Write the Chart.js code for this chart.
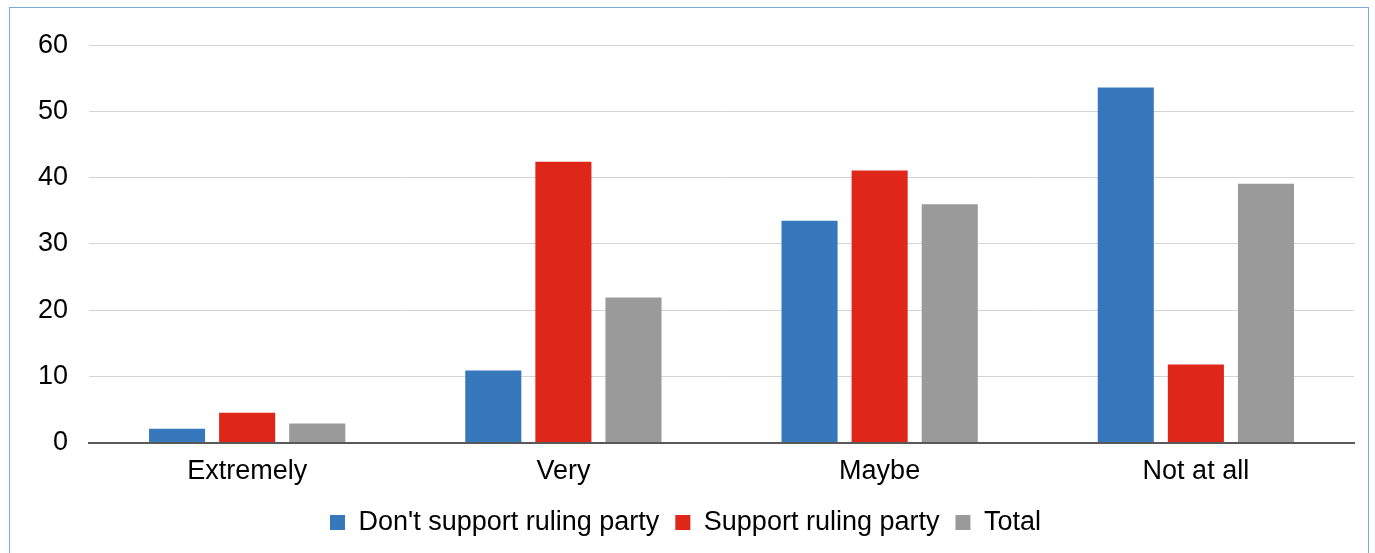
<!DOCTYPE html>
<html>
<head>
<meta charset="utf-8">
<script src="https://cdn.jsdelivr.net/npm/chart.js@4.4.0/dist/chart.umd.min.js"></script>
<style>
  html, body { margin: 0; padding: 0; background: #fff; overflow: hidden; }
  #frame {
    position: absolute; left: 9px; top: 7px; width: 1360px; height: 560px;
    border: 1px solid #7ea6d8; box-sizing: border-box;
  }
  #wrap { position: absolute; left: 10px; top: 8px; width: 1356px; height: 545px; }
</style>
</head>
<body>
<div id="frame"></div>
<div id="wrap"><canvas id="grafico"></canvas></div>
<script>
const categorias = ['Extremely', 'Very', 'Maybe', 'Not at all'];
const noApoyo = [2.1, 10.9, 33.5, 53.6];
const apoyo = [4.5, 42.4, 41.1, 11.8];
const total = [2.9, 21.9, 36.0, 39.1];
const nombresSeries = ["Don't support ruling party", 'Support ruling party', 'Total'];
const colores = ['#3778bd', '#de2719', '#9a9a9a'];

document.addEventListener("DOMContentLoaded", function () {
    const ctx = document.getElementById('grafico').getContext('2d');
    Chart.defaults.font.family = '"Liberation Sans", Arial, sans-serif';
    Chart.defaults.color = '#000';

    new Chart(ctx, {
        type: 'bar',
        data: {
            labels: categorias,
            datasets: [noApoyo, apoyo, total].map((valores, i) => ({
                label: nombresSeries[i],
                data: valores,
                backgroundColor: colores[i],
                barPercentage: 0.8,
                categoryPercentage: 0.665
            }))
        },
        options: {
            responsive: true,
            maintainAspectRatio: false,
            animation: false,
            layout: { padding: { left: 7, right: 12, top: 22, bottom: 7 } },
            plugins: {
                tooltip: { enabled: false },
                legend: {
                    position: 'bottom',
                    labels: {
                        boxWidth: 15, boxHeight: 15, padding: 16,
                        font: { size: 27 }, color: '#000'
                    }
                }
            },
            scales: {
                x: {
                    grid: { display: false },
                    border: { color: '#595959', width: 2 },
                    ticks: { font: { size: 27 }, color: '#000', padding: 5 }
                },
                y: {
                    min: 0, max: 60,
                    ticks: { stepSize: 10, font: { size: 27 }, color: '#000', padding: 21 },
                    grid: { color: '#d4d4d4', drawTicks: false },
                    border: { display: false }
                }
            }
        }
    });
});
</script>
</body>
</html>
